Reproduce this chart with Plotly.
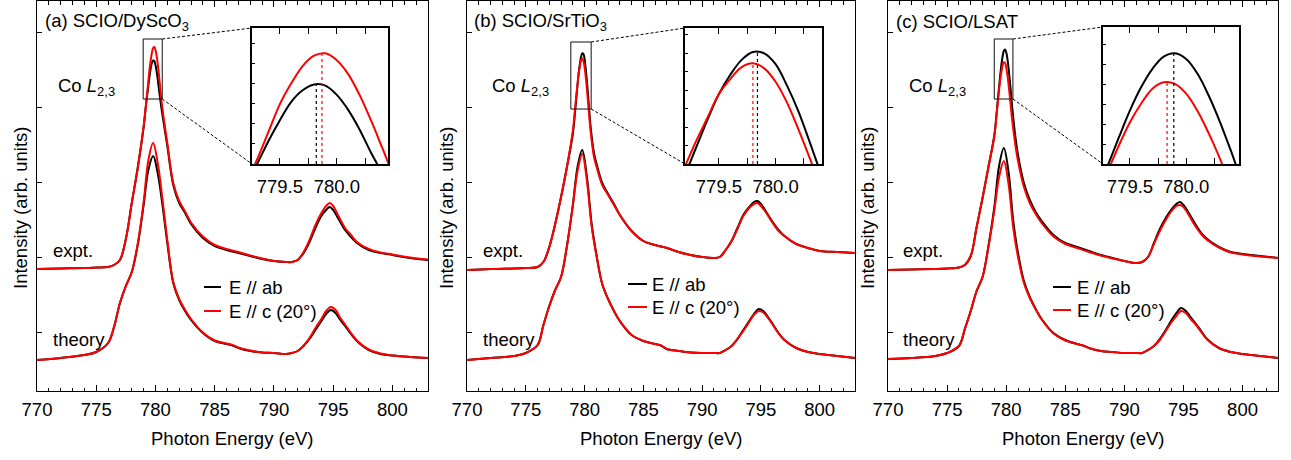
import plotly.graph_objects as go

# ---------------- data (intensity in arb. units) ----------------
E_EXP = [770, 772, 774, 775, 776, 776.5, 777, 777.5, 778, 778.5, 779, 779.2, 779.3, 779.4, 779.5,
         779.6, 779.7, 779.8, 779.9, 780.0, 780.1, 780.2, 780.3, 780.4, 780.5, 780.8, 781, 781.5,
         782, 782.5, 783, 784, 785, 786, 787, 788, 789, 790, 791, 791.5, 792, 792.5, 793, 793.5,
         794, 794.4, 794.7, 795, 795.4, 796, 796.5, 797, 798, 799, 800, 801.5, 803]

E_TH = [770, 772, 774, 775, 776, 776.5, 777, 777.5, 778, 778.5, 779, 779.4, 779.8, 780.2, 780.6,
        781, 781.5, 782, 782.5, 783, 784, 785, 786, 786.5, 787, 788, 789, 790, 791, 791.5, 792,
        792.5, 793, 793.5, 794, 794.4, 794.8, 795.2, 795.6, 796, 796.5, 797, 798, 799, 800, 801.5, 803]

# (a) SCIO/DyScO3
EXP_AB_A = [1.22, 1.225, 1.23, 1.235, 1.24, 1.26, 1.31, 1.52, 1.88, 2.23, 2.64, 2.86, 2.96, 3.06, 3.15,
            3.23, 3.28, 3.305, 3.30, 3.26, 3.195, 3.11, 3.01, 2.92, 2.83, 2.60, 2.45, 2.06,
            1.88, 1.78, 1.67, 1.53, 1.45, 1.41, 1.38, 1.35, 1.32, 1.30, 1.29, 1.29, 1.31, 1.38, 1.49, 1.63,
            1.75, 1.81, 1.84, 1.81, 1.73, 1.61, 1.54, 1.48, 1.41, 1.38, 1.36, 1.33, 1.31]
EXP_C_A = [1.22, 1.225, 1.23, 1.235, 1.24, 1.26, 1.31, 1.52, 1.88, 2.23, 2.65, 2.87, 2.98, 3.10, 3.22,
           3.31, 3.385, 3.43, 3.44, 3.41, 3.35, 3.26, 3.15, 3.03, 2.91, 2.64, 2.48, 2.08,
           1.90, 1.795, 1.685, 1.545, 1.46, 1.42, 1.39, 1.355, 1.325, 1.30, 1.29, 1.29, 1.31, 1.39, 1.51, 1.66,
           1.78, 1.85, 1.88, 1.85, 1.76, 1.63, 1.56, 1.49, 1.42, 1.385, 1.365, 1.335, 1.315]
TH_AB_A = [0.31, 0.33, 0.36, 0.39, 0.48, 0.64, 0.88, 1.05, 1.19, 1.46, 1.86, 2.21, 2.35, 2.17, 1.85,
           1.48, 1.08, 0.91, 0.80, 0.71, 0.58, 0.50, 0.47, 0.455, 0.43, 0.40, 0.385, 0.38, 0.37, 0.38, 0.40,
           0.45, 0.52, 0.61, 0.70, 0.77, 0.81, 0.78, 0.71, 0.65, 0.57, 0.50, 0.41, 0.37, 0.355, 0.34, 0.33]
TH_C_A = [0.31, 0.33, 0.36, 0.39, 0.48, 0.64, 0.88, 1.05, 1.19, 1.47, 1.89, 2.31, 2.48, 2.27, 1.91,
          1.51, 1.09, 0.92, 0.81, 0.72, 0.585, 0.505, 0.475, 0.46, 0.435, 0.405, 0.385, 0.38, 0.37, 0.38, 0.40,
          0.455, 0.53, 0.63, 0.72, 0.80, 0.84, 0.81, 0.73, 0.665, 0.58, 0.505, 0.415, 0.375, 0.355, 0.34, 0.33]

# (b) SCIO/SrTiO3
EXP_AB_B = [1.21, 1.22, 1.225, 1.23, 1.24, 1.29, 1.44, 1.67, 1.94, 2.24, 2.57, 2.80, 2.93, 3.06, 3.18,
            3.27, 3.34, 3.377, 3.371, 3.32, 3.22, 3.10, 2.955, 2.805, 2.66, 2.38, 2.28, 2.08,
            1.97, 1.87, 1.76, 1.60, 1.50, 1.46, 1.43, 1.39, 1.36, 1.34, 1.33, 1.34, 1.41, 1.50, 1.63, 1.76,
            1.84, 1.89, 1.90, 1.87, 1.80, 1.69, 1.61, 1.55, 1.47, 1.43, 1.40, 1.39, 1.38]
EXP_C_B = [1.21, 1.22, 1.225, 1.23, 1.24, 1.29, 1.44, 1.67, 1.94, 2.24, 2.60, 2.84, 2.96, 3.07, 3.18,
           3.25, 3.306, 3.324, 3.30, 3.237, 3.14, 3.015, 2.88, 2.74, 2.61, 2.34, 2.25, 2.06,
           1.96, 1.86, 1.76, 1.60, 1.50, 1.46, 1.43, 1.39, 1.36, 1.34, 1.33, 1.34, 1.41, 1.50, 1.62, 1.75,
           1.83, 1.87, 1.88, 1.85, 1.79, 1.68, 1.60, 1.55, 1.47, 1.43, 1.40, 1.39, 1.38]
TH_AB_B = [0.31, 0.33, 0.35, 0.38, 0.46, 0.66, 0.85, 1.01, 1.14, 1.45, 1.86, 2.24, 2.41, 2.14, 1.67,
           1.37, 1.07, 0.92, 0.80, 0.70, 0.56, 0.50, 0.47, 0.455, 0.42, 0.40, 0.385, 0.38, 0.38, 0.38, 0.41,
           0.45, 0.52, 0.61, 0.70, 0.77, 0.82, 0.80, 0.74, 0.67, 0.58, 0.51, 0.43, 0.39, 0.37, 0.35, 0.33]
TH_C_B = [0.31, 0.33, 0.35, 0.38, 0.46, 0.66, 0.85, 1.01, 1.14, 1.45, 1.85, 2.20, 2.37, 2.10, 1.65,
          1.36, 1.07, 0.92, 0.80, 0.70, 0.56, 0.50, 0.47, 0.455, 0.42, 0.40, 0.385, 0.38, 0.38, 0.38, 0.41,
          0.45, 0.52, 0.60, 0.69, 0.76, 0.80, 0.785, 0.73, 0.665, 0.575, 0.51, 0.43, 0.39, 0.37, 0.35, 0.33]

# (c) SCIO/LSAT
EXP_AB_C = [1.21, 1.215, 1.22, 1.225, 1.235, 1.26, 1.35, 1.64, 1.93, 2.24, 2.56, 2.79, 2.92, 3.045, 3.165,
            3.267, 3.347, 3.40, 3.415, 3.39, 3.326, 3.23, 3.115, 2.985, 2.85, 2.52, 2.36, 2.08,
            1.91, 1.79, 1.70, 1.56, 1.48, 1.44, 1.40, 1.36, 1.33, 1.30, 1.28, 1.29, 1.34, 1.48, 1.62, 1.73,
            1.82, 1.87, 1.89, 1.86, 1.79, 1.67, 1.58, 1.52, 1.44, 1.39, 1.37, 1.35, 1.33]
EXP_C_C = [1.21, 1.215, 1.22, 1.225, 1.235, 1.26, 1.35, 1.64, 1.93, 2.24, 2.55, 2.78, 2.895, 3.01, 3.113,
           3.195, 3.26, 3.288, 3.281, 3.238, 3.163, 3.065, 2.954, 2.834, 2.715, 2.44, 2.30, 2.04,
           1.88, 1.77, 1.68, 1.545, 1.47, 1.43, 1.39, 1.355, 1.325, 1.30, 1.28, 1.29, 1.34, 1.47, 1.60, 1.71,
           1.80, 1.85, 1.86, 1.84, 1.77, 1.65, 1.57, 1.51, 1.435, 1.385, 1.365, 1.345, 1.33]
TH_AB_C = [0.32, 0.33, 0.35, 0.38, 0.45, 0.62, 0.80, 1.00, 1.14, 1.45, 1.84, 2.25, 2.43, 2.19, 1.70,
           1.38, 1.10, 0.94, 0.82, 0.72, 0.58, 0.51, 0.47, 0.455, 0.43, 0.40, 0.39, 0.38, 0.38, 0.38, 0.41,
           0.45, 0.52, 0.61, 0.71, 0.78, 0.83, 0.80, 0.74, 0.68, 0.60, 0.52, 0.43, 0.39, 0.37, 0.35, 0.33]
TH_C_C = [0.32, 0.33, 0.35, 0.38, 0.45, 0.62, 0.80, 1.00, 1.14, 1.44, 1.81, 2.14, 2.30, 2.07, 1.63,
          1.34, 1.08, 0.93, 0.815, 0.715, 0.575, 0.505, 0.47, 0.455, 0.43, 0.40, 0.39, 0.38, 0.38, 0.38, 0.41,
          0.45, 0.51, 0.60, 0.69, 0.75, 0.80, 0.78, 0.72, 0.67, 0.59, 0.515, 0.43, 0.39, 0.37, 0.35, 0.33]

# peak positions marked in the insets (dotted lines)
PEAK_E_AB = [779.82, 779.84, 779.89]
PEAK_I_AB = [3.305, 3.377, 3.415]
PEAK_E_C = [779.87, 779.80, 779.83]
PEAK_I_C = [3.44, 3.324, 3.288]

PANEL_TITLES = ["(a) SCIO/DyScO<sub>3</sub>", "(b) SCIO/SrTiO<sub>3</sub>", "(c) SCIO/LSAT"]
LEGEND_NAMES = ["E // ab", "E // c (20°)"]
X_TICKS = [770, 775, 780, 785, 790, 795, 800]
INSET_TICKS = [779.5, 780.0]
INSET_MINOR_TICKS = [779.75, 780.25]

EXP_AB = [EXP_AB_A, EXP_AB_B, EXP_AB_C]
EXP_C = [EXP_C_A, EXP_C_B, EXP_C_C]
TH_AB = [TH_AB_A, TH_AB_B, TH_AB_C]
TH_C = [TH_C_A, TH_C_B, TH_C_C]

# ---------------- layout geometry (pixels) ----------------
W, H = 1291, 460
FONT = "Liberation Sans, Arial, sans-serif"
FS = 18.5
RED = "#ff0000"
BLACK = "#000000"

def PX(x):
    return x / W

def PY(y):
    return 1 - y / H

MAIN_X_PX = [(37, 428), (467, 855), (888, 1278)]
MAIN_Y_PX = (1, 391)
XR = [770, 803]
YR = [0, 3.9]

INSET_PX = [(252, 388, 28, 164), (685, 822, 28, 164), (1103, 1239, 27, 164)]
INSET_XR = [(779.255, 780.45), (779.2, 780.41), (779.26, 780.47)]
INSET_YR = [(2.96, 3.55), (2.85, 3.49), (2.93, 3.53)]
BOX_X = [(778.96, 780.57), (778.83, 780.56), (778.99, 780.57)]
BOX_Y = [(2.92, 3.52), (2.82, 3.49), (2.92, 3.52)]

TITLE_X = [43, 472, 894]
CO_X = [56, 490, 907]
LBL_X = [51, 481, 901]
LEG_LINE_X = [(204, 221), (628, 647), (1053, 1071)]
LEG_TEXT_X = [227, 650, 1075]
LEG_Y = [(287, 311), (284, 307), (287, 310)]
YTITLE_X = [20, 446, 867]

fig = go.Figure()
layout = dict(width=W, height=H, margin=dict(l=0, r=0, t=0, b=0, pad=0, autoexpand=False),
              paper_bgcolor="white", plot_bgcolor="rgba(0,0,0,0)",
              showlegend=False, font=dict(family=FONT, size=FS, color=BLACK))
annotations = []
shapes = []

for i in range(3):
    mx = "x" if i == 0 else f"x{i+1}"
    my = "y" if i == 0 else f"y{i+1}"
    ix = f"x{i+4}"
    iy = f"y{i+4}"
    mkx = "xaxis" if i == 0 else f"xaxis{i+1}"
    mky = "yaxis" if i == 0 else f"yaxis{i+1}"
    ikx = f"xaxis{i+4}"
    iky = f"yaxis{i+4}"

    x0, x1 = MAIN_X_PX[i]
    layout[mkx] = dict(domain=[PX(x0), PX(x1)], range=XR, anchor=my, automargin=False,
                       tickmode="array", tickvals=X_TICKS, ticks="inside", ticklen=6,
                       tickwidth=1, tickcolor=BLACK,
                       minor=dict(dtick=1, tick0=770, ticks="inside", ticklen=3.5, tickcolor=BLACK),
                       showline=True, linecolor=BLACK, linewidth=1, mirror="allticks",
                       showgrid=False, zeroline=False, ticklabelstandoff=2,
                       tickfont=dict(size=FS))
    layout[mky] = dict(domain=[PY(MAIN_Y_PX[1]), PY(MAIN_Y_PX[0])], range=YR, anchor=mx, automargin=False,
                       tickmode="linear", tick0=0.59, dtick=0.75, ticks="inside", ticklen=5,
                       tickcolor=BLACK, showticklabels=False,
                       showline=True, linecolor=BLACK, linewidth=1, mirror=True,
                       showgrid=False, zeroline=False)

    ax0, ax1, ay0, ay1 = INSET_PX[i]
    layout[ikx] = dict(domain=[PX(ax0), PX(ax1)], range=list(INSET_XR[i]), anchor=iy, automargin=False,
                       tickmode="array", tickvals=INSET_TICKS, tickformat=".1f",
                       ticks="inside", ticklen=6,
                       minor=dict(tickmode="array", tickvals=INSET_MINOR_TICKS, ticks="inside",
                                  ticklen=6, tickcolor=BLACK),
                       tickcolor=BLACK, showline=True, linecolor=BLACK, linewidth=1.5,
                       mirror="allticks", showgrid=False, zeroline=False, ticklabelstandoff=5,
                       tickfont=dict(size=FS))
    layout[iky] = dict(domain=[PY(ay1), PY(ay0)], range=list(INSET_YR[i]), anchor=ix, automargin=False,
                       tickmode="linear", tick0=INSET_YR[i][0], dtick=0.087, ticks="inside",
                       ticklen=3, tickcolor=BLACK, showticklabels=False,
                       showline=True, linecolor=BLACK, linewidth=1.5, mirror=True,
                       showgrid=False, zeroline=False)

    # main curves
    for xs, ys, col in [(E_TH, TH_AB[i], BLACK), (E_TH, TH_C[i], RED),
                        (E_EXP, EXP_AB[i], BLACK), (E_EXP, EXP_C[i], RED)]:
        fig.add_trace(go.Scatter(x=xs, y=ys, mode="lines", line=dict(color=col, width=2, shape="spline", smoothing=1),
                                 xaxis=mx, yaxis=my, hoverinfo="skip"))
    # inset curves (same data, zoomed axes)
    for ys, col in [(EXP_AB[i], BLACK), (EXP_C[i], RED)]:
        fig.add_trace(go.Scatter(x=E_EXP, y=ys, mode="lines", line=dict(color=col, width=2, shape="spline", smoothing=1),
                                 xaxis=ix, yaxis=iy, hoverinfo="skip"))
    # dotted peak markers
    for pe, pi_, col in [(PEAK_E_AB[i], PEAK_I_AB[i], BLACK), (PEAK_E_C[i], PEAK_I_C[i], RED)]:
        fig.add_trace(go.Scatter(x=[pe, pe], y=[INSET_YR[i][0], pi_], mode="lines",
                                 line=dict(color=col, width=1.2, dash="dot"),
                                 xaxis=ix, yaxis=iy, hoverinfo="skip"))

    # zoom box on main panel
    shapes.append(dict(type="rect", xref=mx, yref=my, x0=BOX_X[i][0], x1=BOX_X[i][1],
                       y0=BOX_Y[i][0], y1=BOX_Y[i][1], line=dict(color="#111111", width=1)))

    def to_paper(xv, yv):
        fx = PX(x0) + (xv - XR[0]) / (XR[1] - XR[0]) * (PX(x1) - PX(x0))
        fy = PY(MAIN_Y_PX[1]) + (yv - YR[0]) / (YR[1] - YR[0]) * (PY(MAIN_Y_PX[0]) - PY(MAIN_Y_PX[1]))
        return fx, fy
    bx_tr = to_paper(BOX_X[i][1], BOX_Y[i][1])
    bx_br = to_paper(BOX_X[i][1], BOX_Y[i][0])
    shapes.append(dict(type="line", xref="paper", yref="paper", x0=bx_tr[0], y0=bx_tr[1],
                       x1=PX(ax0), y1=PY(ay0), line=dict(color=BLACK, width=1, dash="3px,2px")))
    shapes.append(dict(type="line", xref="paper", yref="paper", x0=bx_br[0], y0=bx_br[1],
                       x1=PX(ax0), y1=PY(ay1), line=dict(color=BLACK, width=1, dash="3px,2px")))

    # legend samples
    lx0, lx1 = LEG_LINE_X[i]
    for k, col in enumerate([BLACK, RED]):
        shapes.append(dict(type="line", xref="paper", yref="paper", x0=PX(lx0), x1=PX(lx1),
                           y0=PY(LEG_Y[i][k]), y1=PY(LEG_Y[i][k]), line=dict(color=col, width=2)))
        annotations.append(dict(text=LEGEND_NAMES[k], x=PX(LEG_TEXT_X[i]), y=PY(LEG_Y[i][k]),
                                xref="paper", yref="paper", xanchor="left", yanchor="middle",
                                showarrow=False, font=dict(size=FS)))

    annotations.append(dict(text=PANEL_TITLES[i], x=PX(TITLE_X[i]), y=PY(22), xref="paper", yref="paper",
                            xanchor="left", yanchor="middle", showarrow=False, font=dict(size=FS)))
    annotations.append(dict(text="Co <i>L</i><sub>2,3</sub>", x=PX(CO_X[i]), y=PY(87), xref="paper", yref="paper",
                            xanchor="left", yanchor="middle", showarrow=False, font=dict(size=FS)))
    annotations.append(dict(text="expt.", x=PX(LBL_X[i]), y=PY(251), xref="paper", yref="paper",
                            xanchor="left", yanchor="middle", showarrow=False, font=dict(size=FS)))
    annotations.append(dict(text="theory", x=PX(LBL_X[i]), y=PY(339), xref="paper", yref="paper",
                            xanchor="left", yanchor="middle", showarrow=False, font=dict(size=FS)))
    annotations.append(dict(text="Photon Energy (eV)", x=PX((x0 + x1) / 2), y=PY(438), xref="paper", yref="paper",
                            xanchor="center", yanchor="middle", showarrow=False, font=dict(size=FS)))
    annotations.append(dict(text="Intensity (arb. units)", x=PX(YTITLE_X[i]), y=PY(208), xref="paper", yref="paper",
                            xanchor="center", yanchor="middle", textangle=-90, showarrow=False, font=dict(size=FS)))

layout["annotations"] = annotations
layout["shapes"] = shapes
fig.update_layout(**layout)
fig.write_html("out.html")
